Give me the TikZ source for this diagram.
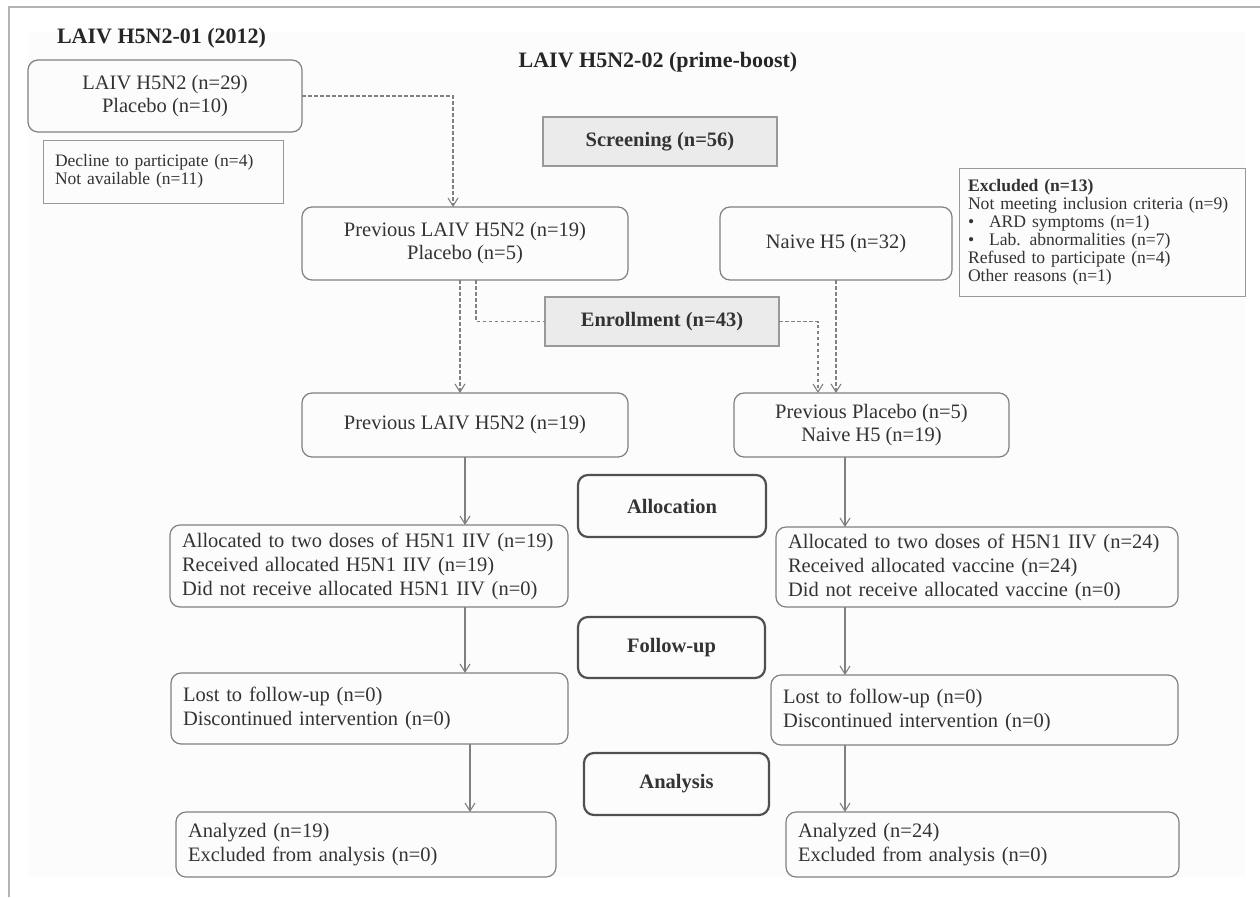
\documentclass[tikz,border=0pt]{standalone}
\usepackage{fontspec}
\setmainfont{Liberation Serif}
\usetikzlibrary{arrows.meta}
\definecolor{ln}{HTML}{808080}
\definecolor{tx}{HTML}{333333}
\definecolor{dk}{HTML}{505050}
\definecolor{fillg}{HTML}{EBEBEB}
\definecolor{frm}{HTML}{B3B3B3}
\definecolor{bgc}{HTML}{FCFCFC}
\newcommand\fmain{\fontsize{20.5}{24}\selectfont}
\newcommand\fsmall{\fontsize{17.5}{18}\selectfont}
\newcommand\fexc{\fontsize{17.6}{18}\selectfont}
\newcommand\fbold{\fontsize{20.5}{24}\selectfont\bfseries}
\newcommand\ftitle{\fontsize{22}{26}\selectfont\bfseries}
\begin{document}
\begin{tikzpicture}[x=1pt,y=-1pt,
  every node/.style={inner sep=0pt, outer sep=0pt, text=tx},
  rbox/.style={draw=ln, line width=1.2pt, rounded corners=10pt, align=center, font=\fmain},
  lbox/.style={draw=ln, line width=1.2pt, rounded corners=10pt, align=left, inner xsep=12pt, font=\fmain},
  sqbox/.style={draw=ln!80, line width=1pt, align=left, inner xsep=12pt, font=\fsmall},
  gbox/.style={draw=ln!80, line width=1.2pt, fill=fillg, font=\fbold},
  sbox/.style={draw=dk, line width=2.2pt, rounded corners=10pt, font=\fbold},
  dsh/.style={draw=ln, line width=1.1pt, dash pattern=on 3.5pt off 2.5pt},
  sol/.style={draw=ln, line width=1.1pt},
  tip/.style={-{Straight Barb[length=8pt,width=10pt]}}
]
\useasboundingbox (0,0) rectangle (1260,897);
\fill[bgc] (28,32) rectangle (1245,877);
\draw[frm, line width=2pt] (9,897) -- (9,7) -- (1260,7);

% titles
\node[font=\ftitle, anchor=west, text=black!85] (t1) at (57,38) {LAIV H5N2-01 (2012)};
\node[font=\ftitle, text=black!85] (t2) at (658,62) {LAIV H5N2-02 (prime-boost)};

% upper part
\node[rbox, minimum width=274pt, minimum height=72pt, font=\fontsize{20.5}{23.5}\selectfont] (b1) at (165,96) {LAIV H5N2 (n=29)\\Placebo (n=10)};
\node[sqbox, text width=216pt, minimum height=63pt] (dec) at (163,171.5) {Decline to participate (n=4)\\Not available (n=11)};
\node[gbox, minimum width=234pt, minimum height=49pt] (scr) at (660,141.5) {Screening (n=56)};
\node[sqbox, font=\fexc, text width=268pt, inner xsep=9pt, minimum height=128pt] (exc) at (1102,232) {\textbf{Excluded (n=13)}\\Not meeting inclusion criteria (n=9)\\\makebox[21pt][l]{\textbullet}ARD symptoms (n=1)\\\makebox[21pt][l]{\textbullet}Lab. abnormalities (n=7)\\Refused to participate (n=4)\\Other reasons (n=1)};
\node[rbox, minimum width=326pt, minimum height=73pt, font=\fontsize{20.5}{23}\selectfont] (pa) at (465,243.5) {Previous LAIV H5N2 (n=19)\\Placebo (n=5)};
\node[rbox, minimum width=232pt, minimum height=73pt] (nv) at (836,243.5) {Naive H5 (n=32)};
\node[gbox, minimum width=234pt, minimum height=49pt] (enr) at (662,321.5) {Enrollment (n=43)};

\node[rbox, minimum width=326pt, minimum height=64pt] (la) at (465,425) {Previous LAIV H5N2 (n=19)};
\node[rbox, minimum width=275pt, minimum height=64pt, font=\fontsize{20.5}{23}\selectfont] (lb) at (871.5,425) {Previous Placebo (n=5)\\Naive H5 (n=19)};

% stages
\node[sbox, minimum width=188pt, minimum height=62pt] (al) at (672,506) {Allocation};
\node[sbox, minimum width=187pt, minimum height=61pt] (fu) at (671.5,647.5) {Follow-up};
\node[sbox, minimum width=185pt, minimum height=62pt] (an) at (676.5,784) {Analysis};

% lower boxes
\node[lbox, text width=374pt, minimum height=82pt] (aa) at (369,566) {Allocated to two doses of H5N1 IIV (n=19)\\Received allocated H5N1 IIV (n=19)\\Did not receive allocated H5N1 IIV (n=0)};
\node[lbox, text width=378pt, minimum height=80pt] (ab) at (977,567) {Allocated to two doses of H5N1 IIV (n=24)\\Received allocated vaccine (n=24)\\Did not receive allocated vaccine (n=0)};
\node[lbox, text width=373pt, minimum height=71pt] (fa) at (369.5,708.5) {Lost to follow-up (n=0)\\Discontinued intervention (n=0)};
\node[lbox, text width=383pt, minimum height=70pt] (fb) at (974.5,710) {Lost to follow-up (n=0)\\Discontinued intervention (n=0)};
\node[lbox, text width=356pt, minimum height=65pt] (xa) at (366,844.5) {Analyzed (n=19)\\Excluded from analysis (n=0)};
\node[lbox, text width=369pt, minimum height=65pt] (xb) at (982.5,844.5) {Analyzed (n=24)\\Excluded from analysis (n=0)};

% dashed connectors
\draw[dsh, tip] (b1.east) -| ([xshift=-12pt]pa.north);
\draw[dsh, tip] ([xshift=-5pt]pa.south) -- ([xshift=-5pt]la.north);
\draw[dsh] ([xshift=11pt]pa.south) |- (enr.west);
\draw[dsh, tip] (enr.east) -| ([xshift=-53.5pt]lb.north);
\draw[dsh, tip] (nv.south) -- (nv.south |- lb.north);

% solid connectors
\draw[sol, tip] (la.south) -- (la.south |- aa.north);
\draw[sol, tip] ([xshift=96pt]aa.south) -- ([xshift=96pt]aa.south |- fa.north);
\draw[sol, tip] ([xshift=100.5pt]fa.south) -- ([xshift=100.5pt]fa.south |- xa.north);
\draw[sol, tip] ([xshift=-26.5pt]lb.south) -- ([xshift=-26.5pt]lb.south |- ab.north);
\draw[sol, tip] ([xshift=-132pt]ab.south) -- ([xshift=-132pt]ab.south |- fb.north);
\draw[sol, tip] ([xshift=-129.5pt]fb.south) -- ([xshift=-129.5pt]fb.south |- xb.north);
\end{tikzpicture}
\end{document}
